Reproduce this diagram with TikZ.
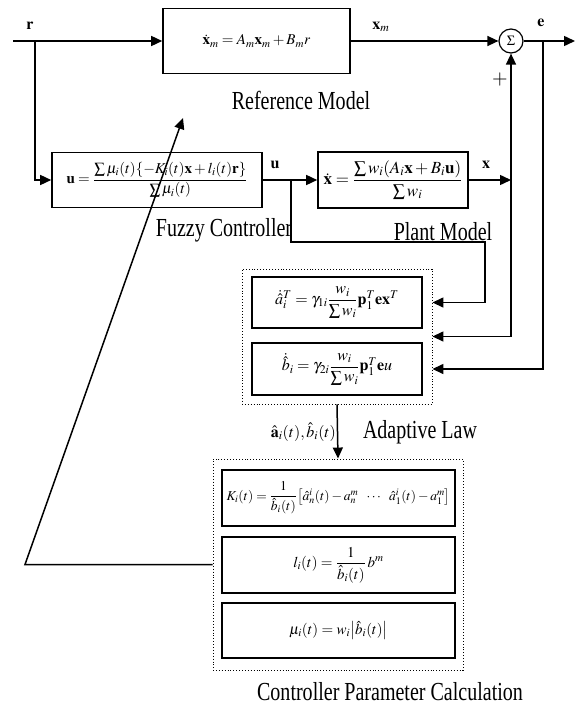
\documentclass[tikz,border=0pt]{standalone}
\usepackage{amsmath}
\usepackage{mathptmx}
\usepackage[no-math]{fontspec}
\setmainfont{Liberation Serif}
\usetikzlibrary{arrows.meta,calc}
\tikzset{
  arr/.style={line width=1.5pt,-{Triangle[length=11pt,width=10pt]}},
  blk/.style={draw,line width=1.6pt,rectangle,inner sep=0pt,font=\fontsize{15}{17}\selectfont},
  grp/.style={draw,line width=0.9pt,dotted,rectangle,inner sep=0pt},
  captext/.style={inner sep=0pt,font=\fontsize{26}{28}\selectfont},
  sig/.style={inner sep=0pt,font=\fontsize{16}{18}\selectfont}
}
\newcommand{\lbl}[1]{\scalebox{0.77}[1]{#1}}
\begin{document}
\begin{tikzpicture}[x=1pt,y=-1pt]
\useasboundingbox (0,0) rectangle (578,707);
% blocks
\node[blk,minimum width=187,minimum height=65] (ref) at (256.5,41) {$\dot{\mathbf{x}}_m = A_m\mathbf{x}_m + B_m r$};
\node[blk,minimum width=210,minimum height=55] (fuzzy) at (157,180) {$\mathbf{u} = \dfrac{\sum \mu_i(t)\{-K_i(t)\mathbf{x}+l_i(t)\mathbf{r}\}}{\sum \mu_i(t)}$};
\node[blk,minimum width=150,minimum height=56,font=\fontsize{17}{19}\selectfont] (plant) at (393,180) {$\dot{\mathbf{x}} = \dfrac{\sum w_i(A_i\mathbf{x}+B_i\mathbf{u})}{\sum w_i}$};
\node[draw,circle,line width=1.2pt,minimum size=24pt,inner sep=0pt,font=\fontsize{14}{16}\selectfont] (sum) at (511,41) {$\Sigma$};
% adaptive law
\node[grp,minimum width=190,minimum height=135] (adbox) at (337,336.5) {};
\node[blk,minimum width=170,minimum height=51,font=\fontsize{16}{18}\selectfont] (ad1) at (337,302.5) {$\dot{\hat{a}}_i^{T} = \gamma_{1i}\dfrac{w_i}{\sum w_i}\mathbf{p}_1^{T}\mathbf{e}\mathbf{x}^{T}$};
\node[blk,minimum width=170,minimum height=52,font=\fontsize{16}{18}\selectfont] (ad2) at (337,369) {$\dot{\hat{b}}_i = \gamma_{2i}\dfrac{w_i}{\sum w_i}\mathbf{p}_1^{T}\mathbf{e}u$};
% controller parameter calculation
\node[grp,minimum width=250,minimum height=211] (cpc) at (338,564.5) {};
\node[blk,minimum width=233,minimum height=56,font=\fontsize{13.5}{15}\selectfont] (kbox) at (338.5,498) {$K_i(t) = \dfrac{1}{\hat{b}_i(t)}\bigl[\hat{a}_n^i(t)-a_n^m\ \ \cdots\ \ \hat{a}_1^i(t)-a_1^m\bigr]$};
\node[blk,minimum width=233,minimum height=56] (lbox) at (338.5,565) {$l_i(t) = \dfrac{1}{\hat{b}_i(t)}\, b^m$};
\node[blk,minimum width=233,minimum height=55] (mubox) at (338.5,630.5) {$\mu_i(t) = w_i\bigl|\hat{b}_i(t)\bigr|$};
% coordinates
\coordinate (rin) at (13,41);
\coordinate (rsplit) at (35,41);
\coordinate (eout) at (575,41);
\coordinate (esplit) at (543,41);
\coordinate (usplit) at (291,180);
\coordinate (ubend) at (485,242);
\coordinate (xsplit) at (plant.east -| sum.south);
\coordinate (xbot) at (adbox.east -| sum.south);
\coordinate (fbend) at (25,564.5);
\coordinate (ftip) at (183,118);
% connectors
\draw[arr] (rin) -- (ref.west);
\draw[arr] (rsplit) |- (fuzzy.west);
\draw[arr] (ref.east) -- (sum.west);
\draw[arr] (sum.east) -- (eout);
\draw[arr] (esplit) |- (ad2.east -| adbox.east);
\draw[arr] (fuzzy.east) -- (plant.west);
\draw[arr] (usplit) |- (ubend) |- (ad1.east -| adbox.east);
\draw[arr] (plant.east) -- (xsplit);
\draw[arr] (xbot) -- (sum.south);
\draw[arr] (xbot) -- (adbox.east);
\draw[arr] (adbox.south) -- (cpc.north);
\draw[arr] (cpc.west) -- (fbend) -- (ftip);
% signal labels
\node[sig] (lr) at (30,26) {$\mathbf{r}$};
\node[sig] (lxm) at (381,27) {$\mathbf{x}_m$};
\node[sig] (le) at (541,23) {$\mathbf{e}$};
\node[inner sep=0pt,font=\fontsize{20}{22}\selectfont] (lplus) at (500,80) {$+$};
\node[sig] (lu) at (275,165) {$\mathbf{u}$};
\node[sig] (lx) at (486,165) {$\mathbf{x}$};
\node[sig,anchor=east] (lab) at (336,432) {$\hat{\mathbf{a}}_i(t),\hat{b}_i(t)$};
% captions
\node[captext] (cref) at (301,100) {\lbl{Reference Model}};
\node[captext] (cfuzzy) at (224,230) {\lbl{Fuzzy Controller}};
\node[captext] (cplant) at (443,232) {\lbl{Plant Model}};
\node[captext] (cad) at (420,432) {\lbl{Adaptive Law}};
\node[captext] (ccpc) at (390,692) {\lbl{Controller Parameter Calculation}};
\end{tikzpicture}
\end{document}
